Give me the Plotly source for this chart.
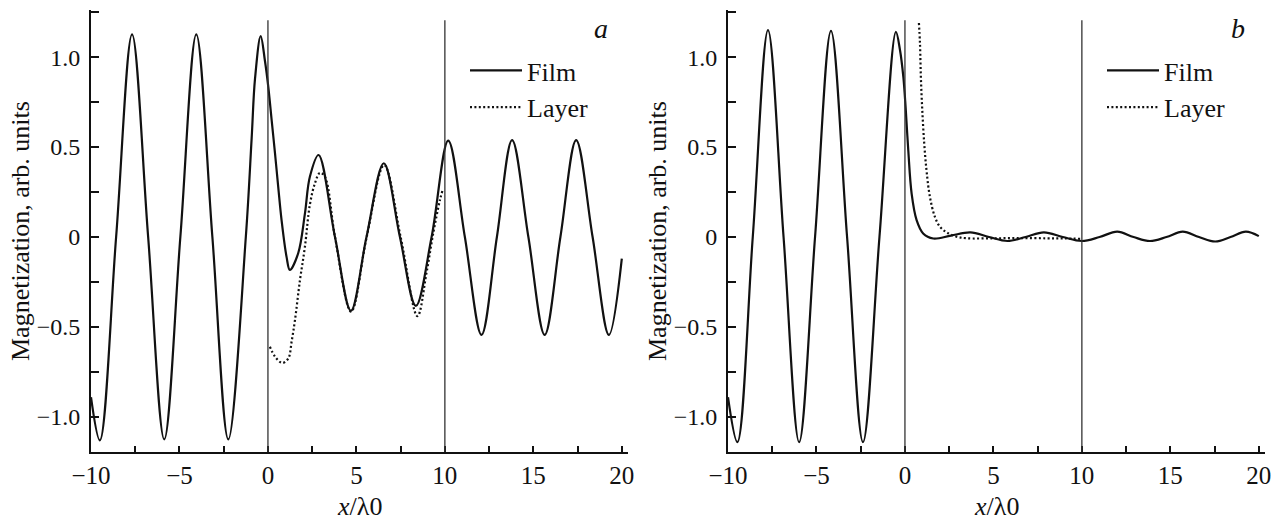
import plotly.graph_objects as go

# ---- data -------------------------------------------------------------
# Panel a: film and layer magnetization vs x/lambda0
film_a_x = [-10, -9.5, -8.58, -7.68, -6.77, -5.86, -4.95, -4.05, -3.14, -2.24,
            -1.25, -0.92, -0.73, -0.41, -0.17, 0.02, 0.21, 0.40, 0.58, 0.77,
            1.05, 1.24, 1.71, 2.09, 2.37, 2.86, 3.79, 4.69, 5.57, 6.55, 7.46,
            8.36, 9.25, 10.19, 11.13, 12.07, 12.94, 13.80, 14.72, 15.64,
            16.53, 17.42, 18.35, 19.27, 20.0]
film_a_y = [-0.89, -1.13, 0.0, 1.126, 0.0, -1.125, 0.0, 1.126, 0.0, -1.125,
            0.0, 0.55, 0.88, 1.117, 0.98, 0.835, 0.65, 0.465, 0.28, 0.094,
            -0.109, -0.183, -0.09, 0.13, 0.335, 0.456, 0.0, -0.41, 0.0, 0.41,
            0.0, -0.383, 0.0, 0.536, 0.0, -0.544, 0.0, 0.539, 0.0, -0.544,
            0.0, 0.539, 0.0, -0.544, -0.12]

layer_a_x = [0.11, 0.40, 0.81, 1.15, 1.34, 1.53, 1.81, 2.09, 2.37, 2.66, 2.94,
             3.22, 3.79, 4.70, 5.58, 6.57, 7.50, 8.45, 8.96, 9.34, 9.72, 9.90]
layer_a_y = [-0.61, -0.665, -0.70, -0.675, -0.58, -0.46, -0.24, -0.054, 0.18,
             0.30, 0.357, 0.335, 0.0, -0.415, 0.0, 0.40, 0.0, -0.44, -0.20,
             0.02, 0.205, 0.27]

# Panel b
film_b_x = [-10, -9.47, -8.6, -7.74, -6.86, -5.98, -5.08, -4.18, -3.27, -2.37,
            -1.44, -0.51, -0.28, -0.09, 0.04, 0.19, 0.38, 0.66, 1.03, 1.6,
            2.6, 3.7, 4.75, 5.8, 6.82, 7.85, 8.92, 10.0, 11.0, 12.0, 12.92,
            13.85, 14.78, 15.7, 16.62, 17.54, 18.4, 19.27, 20.0]
film_b_y = [-0.89, -1.14, 0.0, 1.15, 0.0, -1.14, 0.0, 1.146, 0.0, -1.14,
            0.0, 1.14, 1.04, 0.89, 0.72, 0.48, 0.24, 0.094, 0.02, -0.008,
            0.008, 0.026, 0.0, -0.022, 0.0, 0.026, 0.0, -0.022, 0.0, 0.03,
            0.0, -0.022, 0.0, 0.03, 0.0, -0.025, 0.0, 0.03, 0.005]

layer_b_x = [0.79, 0.85, 0.90, 0.98, 1.09, 1.22, 1.41, 1.69, 1.98, 2.36, 2.92,
             3.5, 5.0, 6.5, 8.0, 9.0, 10.0]
layer_b_y = [1.19, 1.076, 0.89, 0.705, 0.52, 0.37, 0.224, 0.113, 0.057, 0.026,
             0.002, -0.007, -0.007, -0.006, -0.007, -0.008, -0.01]

# interface positions marked by thin vertical lines
boundaries = [0, 10]

# ticks
x_tick_vals = [-10, -7.5, -5, -2.5, 0, 2.5, 5, 7.5, 10, 12.5, 15, 17.5, 20]
x_tick_text = ["−10", "", "−5", "", "0", "", "5", "", "10", "", "15", "", "20"]
y_tick_vals = [-1.0, -0.75, -0.5, -0.25, 0, 0.25, 0.5, 0.75, 1.0, 1.25]
y_tick_text = ["−1.0", "", "−0.5", "", "0", "", "0.5", "", "1.0", ""]

panel_labels = ["a", "b"]

# ---- styling -----------------------------------------------------------
W, H = 1281, 522
FONT = "Liberation Serif, Times New Roman, DejaVu Serif, serif"
INK = "#111111"

x_doms = [[91 / W, 628 / W], [728 / W, 1265 / W]]
y_dom = [(H - 452) / H, (H - 10) / H]
x_range = [-10, 20.35]
y_range = [-1.195, 1.262]

fig = go.Figure()

panels = [
    (film_a_x, film_a_y, layer_a_x, layer_a_y),
    (film_b_x, film_b_y, layer_b_x, layer_b_y),
]

for i, (fx, fy, lx, ly) in enumerate(panels):
    sfx = "" if i == 0 else str(i + 1)
    leg = "legend" if i == 0 else "legend2"
    fig.add_trace(go.Scatter(
        x=fx, y=fy, mode="lines", name="Film",
        line=dict(color=INK, width=2.2, shape="spline", smoothing=1.0),
        xaxis="x" + sfx, yaxis="y" + sfx, legend=leg,
    ))
    fig.add_trace(go.Scatter(
        x=lx, y=ly, mode="lines", name="Layer",
        line=dict(color=INK, width=2.2, dash="2px,2.4px", shape="spline",
                  smoothing=1.0),
        xaxis="x" + sfx, yaxis="y" + sfx, legend=leg,
    ))
    for b in boundaries:
        fig.add_shape(type="line", xref="x" + sfx, yref="y" + sfx,
                      x0=b, x1=b, y0=y_range[0], y1=1.205,
                      line=dict(color="#333333", width=1.3))

axis_common = dict(
    showline=True, linecolor=INK, linewidth=2, showgrid=False, zeroline=False,
    ticks="inside", tickcolor=INK, tickwidth=1.5, automargin=False,
)

layout_axes = {}
for i in range(2):
    sfx = "" if i == 0 else str(i + 1)
    layout_axes["xaxis" + sfx] = dict(
        axis_common, domain=x_doms[i], range=x_range, anchor="y" + sfx,
        tickmode="array", tickvals=x_tick_vals, ticktext=x_tick_text,
        ticklen=6, tickfont=dict(family=FONT, size=25, color=INK),
    )
    layout_axes["yaxis" + sfx] = dict(
        axis_common, domain=y_dom, range=y_range, anchor="x" + sfx,
        tickmode="array", tickvals=y_tick_vals, ticktext=y_tick_text,
        ticklen=8, ticklabelstandoff=4,
        tickfont=dict(family=FONT, size=24, color=INK),
    )

annotations = []
for i in range(2):
    x0, x1 = x_doms[i]
    # x-axis title
    annotations.append(dict(
        text="<i>x</i>/λ0", xref="paper", yref="paper",
        x=(x0 + x1) / 2, y=(H - 506) / H, showarrow=False,
        xanchor="center", yanchor="middle",
        font=dict(family=FONT, size=26, color=INK),
    ))
    # y-axis title
    annotations.append(dict(
        text="Magnetization, arb. units", xref="paper", yref="paper",
        x=(x0 * W - 71) / W, y=(y_dom[0] + y_dom[1]) / 2, textangle=-90,
        showarrow=False, xanchor="center", yanchor="middle",
        font=dict(family=FONT, size=26, color=INK),
    ))
    # panel letter
    annotations.append(dict(
        text=panel_labels[i], xref="paper", yref="paper",
        x=(x1 * W - 27) / W, y=(H - 28) / H, showarrow=False,
        xanchor="center", yanchor="middle",
        font=dict(family=FONT, size=28, color=INK, style="italic"),
    ))

legend_common = dict(
    bgcolor="rgba(0,0,0,0)", borderwidth=0, itemwidth=52,
    font=dict(family=FONT, size=26, color=INK),
    yanchor="top", xanchor="left",
)

fig.update_layout(
    template="none",
    width=W, height=H,
    margin=dict(l=0, r=0, t=0, b=0),
    paper_bgcolor="white", plot_bgcolor="white",
    showlegend=True,
    legend=dict(legend_common, x=465 / W, y=(H - 47) / H),
    legend2=dict(legend_common, x=1102 / W, y=(H - 47) / H),
    annotations=annotations,
    **layout_axes,
)

fig.write_html("out.html")
